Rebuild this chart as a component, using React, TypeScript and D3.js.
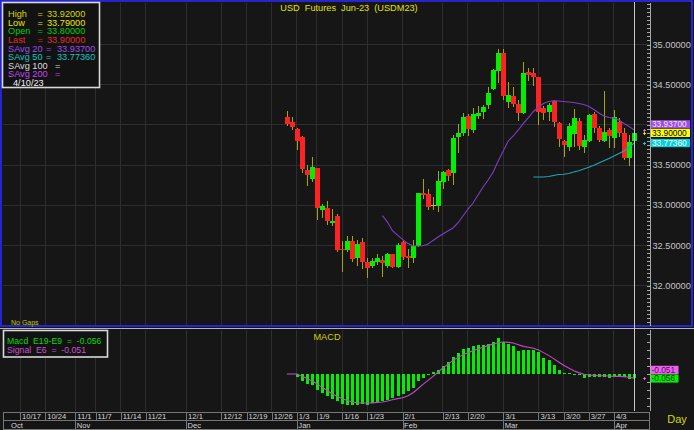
import React, { useMemo } from 'react';
import * as d3 from 'd3';

// ---------- calendar ----------
const calendarFirstDay = '2022-10-17';
const calendarLastDay = '2023-04-10';
const skippedDays = ['2023-01-02', '2023-03-10', '2023-04-07'];
const firstBarDate = '2022-12-29';

// ---------- price bars (Dec 29 2022 -> Apr 10 2023) ----------
const openV = [
  34.10, 34.035, 33.948, 33.85, 33.44, 33.326, 33.467, 32.94, 32.97, 32.787,
  32.865, 32.46, 32.437, 32.56, 32.346, 32.537, 32.292, 32.247, 32.296, 32.317,
  32.247, 32.388, 32.234, 32.541, 32.367, 32.338, 32.492, 33.15, 33.139, 33.0,
  32.99, 33.292, 33.434, 33.397, 33.845, 33.895, 34.11, 33.936, 34.11, 34.16,
  34.243, 34.44, 34.674, 34.898, 34.284, 34.359, 34.255, 34.144, 34.661, 34.649,
  34.59, 34.213, 34.16, 34.297, 34.019, 33.80, 33.72, 33.886, 34.048, 33.728,
  33.803, 34.135, 33.957, 33.80, 33.932, 33.832, 34.03, 33.895, 33.59, 33.80,
];
const highV = [
  34.17, 34.10, 33.965, 33.865, 33.50, 33.595, 33.467, 33.01, 33.05, 32.952,
  32.89, 32.55, 32.616, 32.61, 32.566, 32.595, 32.338, 32.346, 32.392, 32.371,
  32.404, 32.396, 32.525, 32.557, 32.454, 32.566, 33.148, 33.322, 33.198, 33.10,
  33.422, 33.425, 33.45, 33.873, 34.01, 34.144, 34.135, 34.206, 34.234, 34.243,
  34.475, 34.69, 34.94, 34.948, 34.533, 34.467, 34.309, 34.786, 34.704, 34.704,
  34.59, 34.234, 34.268, 34.309, 34.035, 33.81, 34.019, 34.193, 34.08, 33.873,
  34.135, 34.16, 33.99, 34.421, 33.964, 34.185, 34.08, 33.964, 33.873, 33.92,
];
const lowV = [
  33.99, 33.936, 33.687, 33.40, 33.243, 33.29, 32.815, 32.836, 32.753, 32.745,
  32.42, 32.17, 32.42, 32.296, 32.247, 32.201, 32.089, 32.213, 32.255, 32.11,
  32.213, 32.213, 32.213, 32.317, 32.214, 32.284, 32.483, 33.077, 32.94, 32.94,
  32.92, 33.20, 33.305, 33.25, 33.653, 33.861, 33.861, 33.902, 34.073, 34.076,
  34.193, 34.434, 34.524, 34.309, 34.206, 34.226, 34.048, 34.135, 34.55, 34.487,
  34.0, 34.06, 34.05, 33.977, 33.72, 33.596, 33.678, 33.728, 33.687, 33.646,
  33.79, 33.902, 33.785, 33.785, 33.71, 33.71, 33.852, 33.562, 33.491, 33.79,
];
const closeV = [
  34.01, 33.977, 33.80, 33.45, 33.375, 33.47, 32.96, 32.99, 32.803, 32.80,
  32.44, 32.437, 32.56, 32.33, 32.512, 32.296, 32.213, 32.305, 32.346, 32.284,
  32.388, 32.234, 32.504, 32.358, 32.342, 32.496, 33.148, 33.126, 32.98, 33.0,
  33.297, 33.417, 33.363, 33.832, 33.895, 34.094, 33.944, 34.135, 34.151, 34.218,
  34.40, 34.683, 34.898, 34.359, 34.368, 34.259, 34.144, 34.641, 34.62, 34.59,
  34.163, 34.144, 34.243, 34.035, 33.827, 33.745, 33.985, 34.08, 33.736, 33.81,
  34.123, 33.957, 33.808, 33.914, 33.865, 34.10, 33.895, 33.583, 33.783, 33.90,
];

// ---------- simple averages ----------
const sma20Start = 19;
const sma20V = [
  32.869, 32.790, 32.682, 32.628, 32.575, 32.525, 32.495, 32.492, 32.495, 32.513,
  32.558, 32.600, 32.641, 32.678, 32.716, 32.778, 32.865, 32.952, 33.027, 33.126,
  33.226, 33.313, 33.413, 33.550, 33.674, 33.799, 33.861, 33.936, 34.017, 34.091,
  34.166, 34.222, 34.266, 34.290, 34.299, 34.297, 34.290, 34.284, 34.278, 34.266,
  34.253, 34.228, 34.191, 34.147, 34.110, 34.091, 34.081, 34.060, 34.017, 33.979,
  33.937,
];
const sma50Start = 49;
const sma50V = [
  33.351, 33.351, 33.351, 33.357, 33.369, 33.382, 33.384, 33.394, 33.413, 33.429,
  33.450, 33.471, 33.496, 33.525, 33.553, 33.581, 33.612, 33.643, 33.674, 33.718,
  33.7736,
];

// ---------- MACD ----------
const macdV = [
  0, 0, -0.033, -0.083, -0.124, -0.141, -0.195, -0.236, -0.278, -0.307,
  -0.340, -0.373, -0.390, -0.382, -0.382, -0.378, -0.382, -0.361, -0.349, -0.332,
  -0.320, -0.299, -0.278, -0.249, -0.216, -0.174, -0.091, -0.050, -0.017, 0.021,
  0.046, 0.095, 0.149, 0.207, 0.261, 0.307, 0.324, 0.344, 0.357, 0.365,
  0.378, 0.398, 0.448, 0.398, 0.378, 0.344, 0.290, 0.299, 0.299, 0.299,
  0.274, 0.199, 0.170, 0.108, 0.054, 0.017, 0.008, 0.004, -0.017, -0.050,
  -0.033, -0.033, -0.041, -0.041, -0.046, -0.033, -0.033, -0.033, -0.062, -0.056,
];
const signalV = [
  0, 0, 0, -0.029, -0.054, -0.087, -0.120, -0.166, -0.203, -0.245,
  -0.278, -0.307, -0.328, -0.349, -0.357, -0.361, -0.361, -0.361, -0.353, -0.349,
  -0.336, -0.320, -0.307, -0.295, -0.274, -0.237, -0.187, -0.133, -0.083, -0.033,
  0.021, 0.075, 0.120, 0.170, 0.203, 0.241, 0.266, 0.290, 0.311, 0.332,
  0.353, 0.373, 0.390, 0.398, 0.394, 0.386, 0.365, 0.344, 0.332, 0.320,
  0.299, 0.266, 0.232, 0.191, 0.149, 0.108, 0.075, 0.041, 0.017, -0.004,
  -0.012, -0.017, -0.021, -0.021, -0.025, -0.029, -0.029, -0.033, -0.041, -0.051,
];

// ---------- axes ----------
const tickDates = [
  '2022-10-17', '2022-10-24', '2022-11-01', '2022-11-07', '2022-11-14', '2022-11-21',
  '2022-12-01', '2022-12-12', '2022-12-19', '2022-12-26', '2023-01-03', '2023-01-09',
  '2023-01-16', '2023-01-23', '2023-02-01', '2023-02-13', '2023-02-20', '2023-03-01',
  '2023-03-13', '2023-03-20', '2023-03-27', '2023-04-03',
];
const monthLabels = ['Oct', 'Nov', 'Dec', 'Jan', 'Feb', 'Mar', 'Apr'];
const monthFirstTicks = [null, '2022-11-01', '2022-12-01', '2023-01-03', '2023-02-01', '2023-03-01', '2023-04-03'];
const priceTicks = [32, 32.5, 33, 33.5, 34, 34.5, 35];
const titleText = 'USD  Futures  Jun-23  (USDM23)';
const lastDateLabel = '4/10/23';

// ---------- helpers ----------
const pad = (n: number) => (n < 10 ? '0' + n : '' + n);
const iso = (d: Date) => `${d.getFullYear()}-${pad(d.getMonth() + 1)}-${pad(d.getDate())}`;
const parse = (s: string) => {
  const [y, m, d] = s.split('-').map(Number);
  return new Date(y, m - 1, d);
};
function buildCalendar(): string[] {
  const out: string[] = [];
  const d = parse(calendarFirstDay);
  const end = parse(calendarLastDay);
  while (d <= end) {
    const wd = d.getDay();
    const k = iso(d);
    if (wd !== 0 && wd !== 6 && !skippedDays.includes(k)) out.push(k);
    d.setDate(d.getDate() + 1);
  }
  return out;
}
const shortDate = (s: string) => {
  const d = parse(s);
  return `${d.getMonth() + 1}/${d.getDate()}`;
};

const FONT = 'Liberation Sans, Arial, Helvetica, sans-serif';
const BG = '#161616';
const GRID = '#2e2e2e';
const AXIS = '#a8a8a8';

type Box = { y: number; ly: number; color: string; text: string; fg: string; mark: string };
function spreadBoxes(items: Box[], gap: number) {
  const s = [...items].sort((a, b) => b.y - a.y);
  s.forEach((b, k) => {
    b.ly = b.y;
    if (k > 0 && s[k - 1].ly - b.y < gap) b.ly = s[k - 1].ly - gap;
  });
  return s;
}

function Cross({ cx, cy, color }: { cx: number; cy: number; color: string }) {
  const x0 = Math.round(cx);
  const y0 = Math.round(cy);
  return (
    <g shapeRendering="crispEdges" fill={color}>
      <rect x={x0 - 1} y={y0} width={3} height={1} />
      <rect x={x0} y={y0 - 1} width={1} height={3} />
    </g>
  );
}

export default function App() {
  const calendar = useMemo(buildCalendar, []);
  const first = calendar.indexOf(firstBarDate);
  const x = d3.scaleLinear().domain([0, calendar.length - 1]).range([20, 634.1]);
  const y = d3.scaleLinear().domain([32, 35]).range([285.5, 44.5]);
  const ym = d3.scaleLinear().domain([-0.5, 0.5]).range([374 + 40.165, 374 - 40.165]);

  const n = openV.length;
  const last = n - 1;
  const lastX = x(first + last);

  const sma20Path = d3
    .line<number>()
    .x((_, i) => x(first + sma20Start + i))
    .y((v) => y(v))(sma20V) as string;
  const sma50Path = d3
    .line<number>()
    .x((_, i) => x(first + sma50Start + i))
    .y((v) => y(v))(sma50V) as string;
  const signalPath = d3
    .line<number>()
    .x((_, i) => x(first + i))
    .y((v) => ym(v))(signalV) as string;

  const tickXs = tickDates.map((t) => ({ label: shortDate(t), x: x(calendar.indexOf(t)) }));
  const months = monthLabels.map((m, k) => {
    const t = monthFirstTicks[k];
    return { label: m, x: t ? x(calendar.indexOf(t)) : 3, first: !t };
  });

  const GAP = 8.6;
  const priceBoxes = spreadBoxes(
    [
      { y: y(sma20V[sma20V.length - 1]), ly: 0, color: '#9c4ce6', fg: '#f4eaff', mark: '#b070ff', text: sma20V[sma20V.length - 1].toFixed(5) },
      { y: y(closeV[last]), ly: 0, color: '#ffff00', fg: '#000000', mark: '#e0e000', text: closeV[last].toFixed(5) },
      { y: y(sma50V[sma50V.length - 1]), ly: 0, color: '#00d2e0', fg: '#ffffff', mark: '#00d0d0', text: sma50V[sma50V.length - 1].toFixed(5) },
    ],
    GAP
  );
  const macdBoxes = spreadBoxes(
    [
      { y: ym(macdV[last]), ly: 0, color: '#00f000', fg: '#003000', mark: '#00e000', text: macdV[last].toFixed(3) },
      { y: ym(signalV[last]), ly: 0, color: '#f060f0', fg: '#501050', mark: '#e060e0', text: signalV[last].toFixed(3) },
    ],
    GAP
  );

  const minorPrice = d3.range(31.5, 35.55, 0.05).map((v) => y(v)).filter((v) => v > 3 && v < 325);
  const minorMacd = d3.range(-0.5, 0.51, 0.1).map((v) => ym(v)).filter((v) => v > 331 && v < 411);

  const visiblePriceTicks = priceTicks.filter((p) => priceBoxes.every((b) => Math.abs(b.ly - y(p)) > 9));

  const legendRows = [
    { label: 'High', eq: 37.5, val: highV[last].toFixed(5), vx: 47, color: '#d6d600' },
    { label: 'Low', eq: 37.5, val: lowV[last].toFixed(5), vx: 47, color: '#e8e800' },
    { label: 'Open', eq: 37.5, val: openV[last].toFixed(5), vx: 47, color: '#00cc00' },
    { label: 'Last', eq: 37.5, val: closeV[last].toFixed(5), vx: 47, color: '#e62828' },
    { label: 'SAvg 20', eq: 46, val: sma20V[sma20V.length - 1].toFixed(5), vx: 57, color: '#9a50ec' },
    { label: 'SAvg 50', eq: 46, val: sma50V[sma50V.length - 1].toFixed(5), vx: 57, color: '#10c8c8' },
    { label: 'SAvg 100', eq: 55, val: '', vx: 65, color: '#dcdcdc' },
    { label: 'SAvg 200', eq: 55, val: '', vx: 65, color: '#c048f0' },
  ];

  return (
    <svg
      width={694}
      height={430}
      style={{ position: 'absolute', left: 0, top: 0, background: BG }}
      fontFamily={FONT}
    >
      <rect x={0} y={0} width={694} height={430} fill={BG} />

      {/* ---------- grid ---------- */}
      <g shapeRendering="crispEdges" stroke={GRID} strokeWidth={1}>
        {tickXs.map((t, k) => (
          <line key={'vg' + k} x1={t.x} x2={t.x} y1={3} y2={325} />
        ))}
        {priceTicks.map((p, k) => (
          <line key={'hg' + k} x1={3} x2={650} y1={y(p)} y2={y(p)} />
        ))}
        {tickXs.map((t, k) => (
          <line key={'mg' + k} x1={t.x} x2={t.x} y1={330} y2={411} />
        ))}
      </g>

      {/* main frame */}
      <rect x={1} y={1} width={691} height={325} fill="none" stroke="#2626cc" strokeWidth={2} />
      <line x1={0} x2={694} y1={328.5} y2={328.5} stroke="#b4b4b4" strokeWidth={1} />

      {/* ---------- candles ---------- */}
      <g>
        {openV.map((o, i) => {
          const cx = Math.round(x(first + i));
          const c = closeV[i];
          const up = c > o;
          const flat = Math.abs(c - o) < 0.002;
          const top = y(Math.max(o, c));
          const bot = y(Math.min(o, c));
          return (
            <g key={'c' + i} shapeRendering="crispEdges">
              <rect x={cx - 0.5} y={y(highV[i])} width={1} height={Math.max(1, y(lowV[i]) - y(highV[i]))} fill="#a6a600" />
              {flat ? (
                <rect x={cx - 2} y={top - 0.5} width={5} height={1} fill="#c8c800" />
              ) : (
                <rect x={cx - 2} y={top} width={5} height={Math.max(1.5, bot - top)} fill={up ? '#00f000' : '#ff2222'} />
              )}
            </g>
          );
        })}
      </g>

      {/* moving averages */}
      <path d={sma20Path} fill="none" stroke="#7e3ec6" strokeWidth={1.1} />
      <path d={sma50Path} fill="none" stroke="#1aaab4" strokeWidth={1.1} />

      {/* ---------- MACD ---------- */}
      <g shapeRendering="crispEdges">
        {macdV.map((v, i) => {
          const cx = Math.round(x(first + i));
          const y0 = ym(0);
          const y1 = ym(v);
          const h = Math.abs(y1 - y0);
          if (h < 0.2) return null;
          return <rect key={'m' + i} x={cx - 1.5} y={Math.min(y0, y1)} width={3.5} height={Math.max(1, h)} fill="#00f000" />;
        })}
      </g>
      <path d={signalPath} fill="none" stroke="#c24cc8" strokeWidth={1.1} />

      {/* current day line */}
      <line x1={Math.round(lastX) + 0.5} x2={Math.round(lastX) + 0.5} y1={2} y2={411} stroke="#c8c8c8" strokeWidth={1} />

      {/* ---------- right axis ---------- */}
      <g shapeRendering="crispEdges">
        <line x1={650.5} x2={650.5} y1={3} y2={326} stroke={AXIS} />
        {minorPrice.map((v, k) => (
          <line key={'mt' + k} x1={647} x2={650} y1={Math.round(v) + 0.5} y2={Math.round(v) + 0.5} stroke={AXIS} />
        ))}
        <line x1={650.5} x2={650.5} y1={330} y2={411} stroke={AXIS} />
        {minorMacd.map((v, k) => (
          <line key={'mm' + k} x1={647} x2={650} y1={Math.round(v) + 0.5} y2={Math.round(v) + 0.5} stroke={AXIS} />
        ))}
      </g>
      {visiblePriceTicks.map((p, k) => (
        <text key={'pl' + k} x={652.5} y={y(p) + 3.3} fontSize={9.2} fill="#c4c4c4">
          {p.toFixed(5)}
        </text>
      ))}

      {/* value boxes */}
      {priceBoxes.map((b, k) => (
        <g key={'pb' + k}>
          <Cross cx={644} cy={b.y} color={b.mark} />
          <rect x={651} y={b.ly - 4.1} width={39} height={8.2} fill={b.color} />
          <text x={652} y={b.ly + 3} fontSize={8.3} fill={b.fg}>
            {b.text}
          </text>
        </g>
      ))}
      {macdBoxes.map((b, k) => (
        <g key={'mb' + k}>
          <Cross cx={644} cy={b.y} color={b.mark} />
          <rect x={651} y={b.ly - 4.1} width={27.5} height={8.2} fill={b.color} />
          <text x={651.5} y={b.ly + 3} fontSize={8.3} fill={b.fg}>
            {b.text}
          </text>
        </g>
      ))}

      {/* ---------- texts ---------- */}
      <text x={349} y={11} fontSize={9.2} fill="#e2e200" textAnchor="middle" style={{ whiteSpace: 'pre' }}>
        {titleText}
      </text>
      <text x={11} y={325} fontSize={7} fill="#c8c800">No Gaps</text>

      {/* legend */}
      <rect x={2.5} y={2.5} width={97} height={85} fill="#121212" stroke="#d8d8d8" strokeWidth={1.6} />
      {legendRows.map((r, k) => {
        const by = 17.3 + k * 8.55;
        return (
          <g key={'lg' + k} fontSize={9.2} fill={r.color}>
            <text x={8} y={by}>{r.label}</text>
            <text x={r.eq} y={by}>=</text>
            {r.val && <text x={r.vx} y={by}>{r.val}</text>}
          </g>
        );
      })}
      <text x={13} y={17.3 + 8 * 8.55} fontSize={9.2} fill="#f0f0f0">{lastDateLabel}</text>

      {/* MACD legend */}
      <rect x={3.5} y={330.5} width={104} height={26.5} fill="#121212" stroke="#d8d8d8" strokeWidth={1.6} />
      <text x={7} y={344} fontSize={8.7} fill="#00dd00" style={{ whiteSpace: 'pre' }}>
        {`Macd  E19-E9  =  ${macdV[last].toFixed(3)}`}
      </text>
      <text x={7} y={352.8} fontSize={8.7} fill="#d050d0" style={{ whiteSpace: 'pre' }}>
        {`Signal  E6  =  ${signalV[last].toFixed(3)}`}
      </text>
      <text x={327} y={339.5} fontSize={9.2} fill="#d2d200" textAnchor="middle">MACD</text>

      {/* ---------- bottom date axis ---------- */}
      <g shapeRendering="crispEdges">
        <rect x={3.5} y={412.5} width={646} height={17} fill="#141414" stroke="#767676" />
        <line x1={3.5} x2={649.5} y1={420.5} y2={420.5} stroke="#767676" />
        {tickXs.map((t, k) => (
          <line key={'dt' + k} x1={Math.round(t.x) + 0.5} x2={Math.round(t.x) + 0.5} y1={412.5} y2={420.5} stroke="#767676" />
        ))}
        {months.map((m, k) => (
          <line key={'ms' + k} x1={Math.round(m.x) + 0.5} x2={Math.round(m.x) + 0.5} y1={420.5} y2={430} stroke="#767676" />
        ))}
      </g>
      {tickXs.map((t, k) => (
        <text key={'dl' + k} x={t.x + 2} y={419.3} fontSize={7.6} fill="#d8d8d8">
          {t.label}
        </text>
      ))}
      {months.map((m, k) => (
        <text key={'ml' + k} x={m.first ? m.x + 8 : m.x + 1.5} y={428.3} fontSize={7.6} fill="#d8d8d8">
          {m.label}
        </text>
      ))}
      <text x={677} y={423} fontSize={11} fill="#d6d600" textAnchor="middle">Day</text>
    </svg>
  );
}
